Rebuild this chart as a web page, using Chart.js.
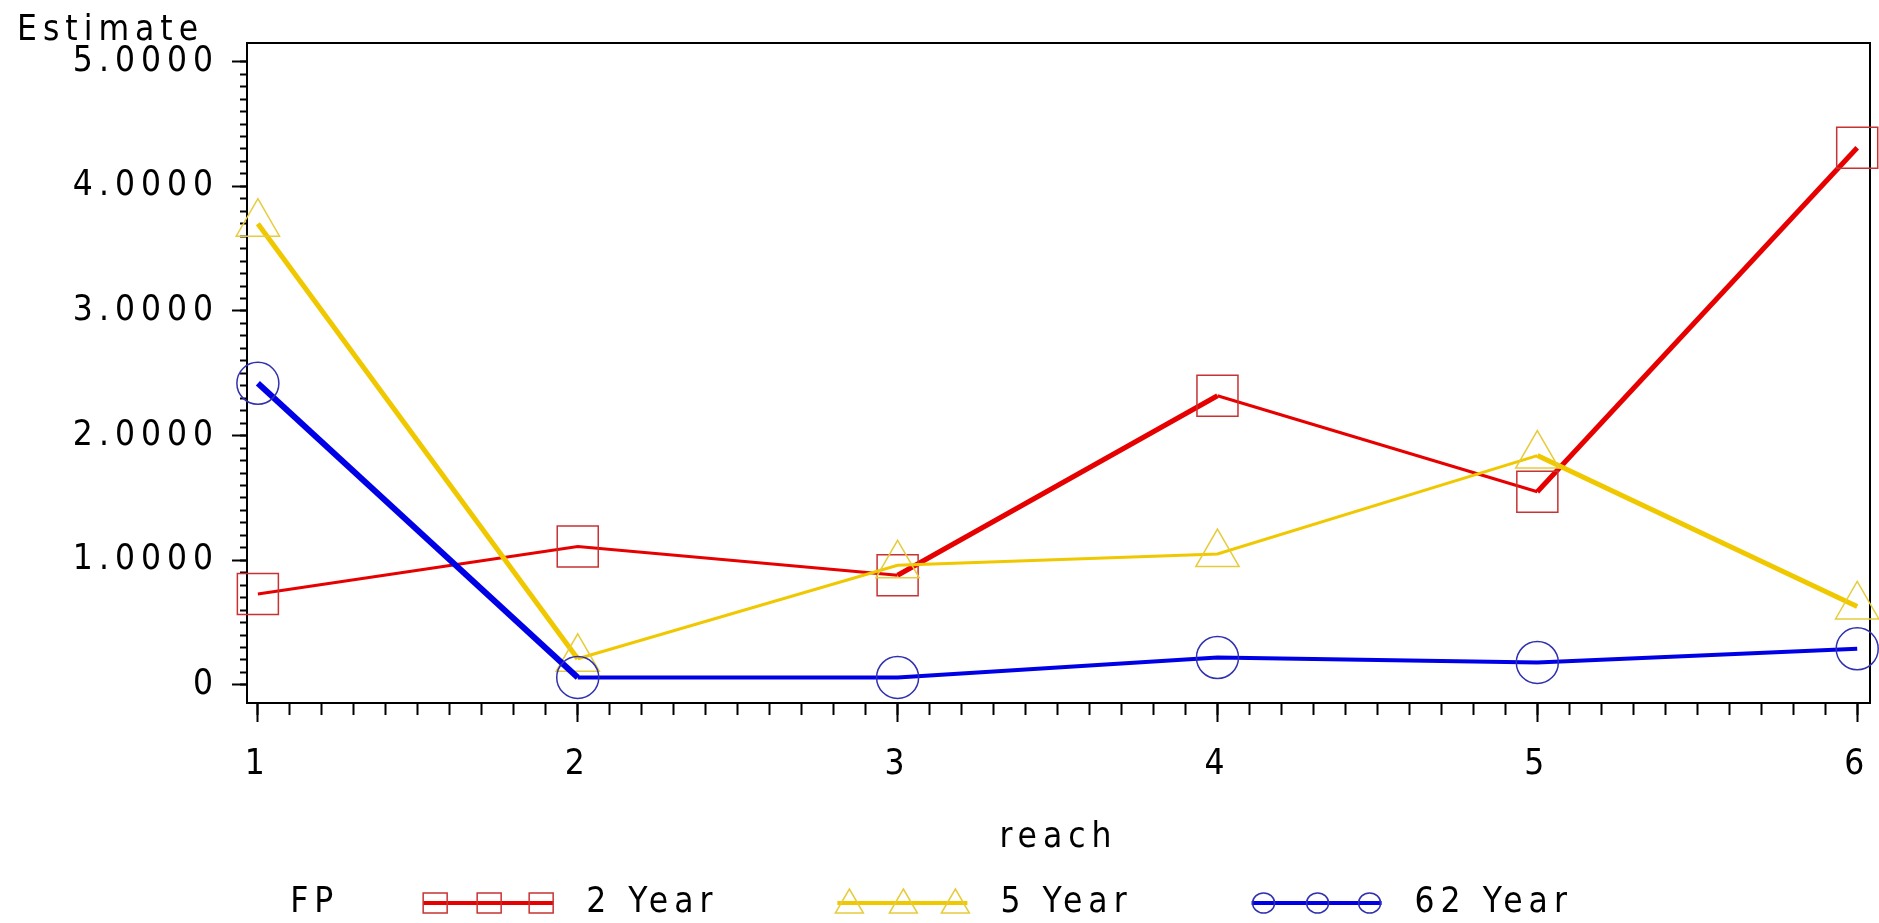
<!DOCTYPE html>
<html>
<head>
<meta charset="utf-8">
<script src="https://cdn.jsdelivr.net/npm/chart.js@4.4.1/dist/chart.umd.min.js"></script>
<style>
  html, body { margin: 0; padding: 0; background: #fff; overflow: hidden; }
  #wrap { width: 1879px; height: 923px; position: relative; }
</style>
</head>
<body>
<div id="wrap"><canvas id="c"></canvas></div>
<script>
// ---- data ----
const categories = [1, 2, 3, 4, 5, 6];
const seriesNames = ['2 Year', '5 Year', '62 Year'];
const fp2Year  = [0.73, 1.11, 0.88, 2.32, 1.55, 4.31];
const fp5Year  = [3.70, 0.21, 0.96, 1.05, 1.84, 0.63];
const fp62Year = [2.42, 0.06, 0.06, 0.22, 0.18, 0.29];
const xTickValues = [1, 2, 3, 4, 5, 6];
const xTickLabels = ['1', '2', '3', '4', '5', '6'];
const yTickValues = [0, 1, 2, 3, 4, 5];
const yTickLabels = ['0', '1.0000', '2.0000', '3.0000', '4.0000', '5.0000'];
const xAxisTitle = 'reach';
const yAxisTitle = 'Estimate';
const legendTitle = 'FP';

// ---- styles ----
const FONT_FAMILY = "'DejaVu Sans Condensed', 'Liberation Sans Narrow', sans-serif";
const SPACING = '6px';
const font = { family: FONT_FAMILY, size: 35, lineHeight: 1.2, weight: 'normal' };
const RED = '#e60000', RED_MK = '#c83232';
const YEL = '#f0c800', YEL_MK = '#e6cc3c';
const BLU = '#0000e6', BLU_MK = '#3030b0';
const redW = [3, 3, 5, 3, 5];
const yelW = [5, 3, 3, 3, 5];
const bluW = [6, 4, 4, 4, 4];
const X_MIN = 0.966, X_MAX = 6.04, Y_MIN = -0.145, Y_MAX = 5.15;
const LEG_BOX = 254.5, SAMPLE_OFF = 109, SAMPLE_LEN = 130;

function toXY(vals) { return categories.map((c, i) => ({ x: c, y: vals[i] })); }
function minorTicks(from, to, step) {
  const out = [];
  const n = Math.round((to - from) / step);
  for (let i = 0; i <= n; i++) out.push({ value: +(from + i * step).toFixed(6) });
  return out;
}
function noPad(s) { s.paddingLeft = 0; s.paddingRight = 0; s.paddingTop = 0; s.paddingBottom = 0; }

const spacingPlugin = {
  id: 'spacing',
  beforeUpdate(c) { c.ctx.letterSpacing = SPACING; },
  beforeLayout(c) { c.ctx.letterSpacing = SPACING; },
  beforeDraw(c) { c.ctx.letterSpacing = SPACING; }
};

function drawMarker(ctx, style, x, y, color) {
  ctx.save();
  ctx.strokeStyle = color;
  ctx.lineWidth = 1.5;
  ctx.beginPath();
  if (style === 'rect') {
    ctx.rect(x - 12, y - 10, 24, 20);
  } else if (style === 'triangle') {
    ctx.moveTo(x, y - 14);
    ctx.lineTo(x + 14, y + 10);
    ctx.lineTo(x - 14, y + 10);
    ctx.closePath();
  } else {
    ctx.ellipse(x, y, 11, 10, 0, 0, Math.PI * 2);
  }
  ctx.stroke();
  ctx.restore();
}

const legendDecor = {
  id: 'legendDecor',
  afterDraw(chart) {
    const lg = chart.legend;
    if (!lg || !lg.legendHitBoxes || !lg.legendHitBoxes.length) return;
    const ctx = chart.ctx;
    const ih = font.size;
    lg.legendHitBoxes.forEach((h, i) => {
      const ds = chart.data.datasets[i];
      const cy = h.top + ih / 2;
      const x0 = h.left + SAMPLE_OFF;
      ctx.save();
      ctx.strokeStyle = ds.borderColor;
      ctx.lineWidth = 4;
      ctx.beginPath();
      ctx.moveTo(x0, cy);
      ctx.lineTo(x0 + SAMPLE_LEN, cy);
      ctx.stroke();
      ctx.restore();
      [12, 66, 118].forEach(d => drawMarker(ctx, ds.pointStyle, x0 + d, cy, ds.pointBorderColor));
    });
    const h0 = lg.legendHitBoxes[0];
    ctx.save();
    ctx.letterSpacing = SPACING;
    ctx.font = `${font.size}px ${FONT_FAMILY}`;
    ctx.fillStyle = '#000';
    ctx.textBaseline = 'middle';
    ctx.textAlign = 'left';
    ctx.fillText(legendTitle, h0.left + SAMPLE_OFF - 133, h0.top + ih / 2);
    ctx.restore();
  }
};

const ctx = document.getElementById('c').getContext('2d');
new Chart(ctx, {
  type: 'line',
  data: {
    datasets: [
      { label: seriesNames[0], data: toXY(fp2Year), borderColor: RED, backgroundColor: RED,
        borderWidth: 3.5, segment: { borderWidth: c => redW[c.p0DataIndex] },
        pointStyle: 'rect', pointRadius: 29, pointBorderColor: RED_MK, pointBackgroundColor: 'rgba(0,0,0,0)',
        pointBorderWidth: 1.5, order: 2 },
      { label: seriesNames[1], data: toXY(fp5Year), borderColor: YEL, backgroundColor: YEL,
        borderWidth: 3.5, segment: { borderWidth: c => yelW[c.p0DataIndex] },
        pointStyle: 'triangle', pointRadius: 25, pointBorderColor: YEL_MK, pointBackgroundColor: 'rgba(0,0,0,0)',
        pointBorderWidth: 1.5, order: 1 },
      { label: seriesNames[2], data: toXY(fp62Year), borderColor: BLU, backgroundColor: BLU,
        borderWidth: 4, segment: { borderWidth: c => bluW[c.p0DataIndex] },
        pointStyle: 'circle', pointRadius: 21, pointBorderColor: BLU_MK, pointBackgroundColor: 'rgba(0,0,0,0)',
        pointBorderWidth: 1.5, order: 0 }
    ]
  },
  options: {
    responsive: true,
    maintainAspectRatio: false,
    animation: false,
    devicePixelRatio: 1,
    events: [],
    datasets: { line: { tension: 0, clip: false, pointHoverRadius: 0 } },
    layout: { autoPadding: false, padding: { left: 17, right: 9, top: 0, bottom: -7.5 } },
    scales: {
      x: {
        type: 'linear', position: 'bottom', weight: 1, min: X_MIN, max: X_MAX,
        afterBuildTicks: s => { s.ticks = xTickValues.map(v => ({ value: v })); },
        afterFit: s => { s.height = 172.5; noPad(s); },
        ticks: { autoSkip: false, maxRotation: 0, color: '#000', font: font, padding: 22,
                 callback: (v, i) => xTickLabels[i] },
        grid: { drawOnChartArea: false, drawTicks: true, tickLength: 19, tickWidth: 2, tickColor: '#000' },
        border: { display: true, color: '#000', width: 2 },
        title: { display: true, text: xAxisTitle, color: '#000', font: font, padding: { top: 0, bottom: 16.5 } }
      },
      xMinor: {
        type: 'linear', position: 'bottom', weight: 0, min: X_MIN, max: X_MAX,
        afterBuildTicks: s => { s.ticks = minorTicks(1, 6, 0.1); },
        afterFit: s => { s.height = 0; noPad(s); },
        ticks: { display: false, autoSkip: false },
        grid: { drawOnChartArea: false, drawTicks: true, tickLength: 12, tickWidth: 2, tickColor: '#000' },
        border: { display: false }
      },
      xTop: {
        type: 'linear', position: 'top', min: X_MIN, max: X_MAX,
        afterFit: s => { s.height = 0; noPad(s); },
        ticks: { display: false },
        grid: { drawOnChartArea: false, drawTicks: false },
        border: { display: true, color: '#000', width: 2 }
      },
      y: {
        type: 'linear', position: 'left', weight: 1, min: Y_MIN, max: Y_MAX,
        afterBuildTicks: s => { s.ticks = yTickValues.map(v => ({ value: v })); },
        afterFit: s => { s.width = 230; noPad(s); },
        ticks: { autoSkip: false, color: '#000', font: font, padding: 13,
                 callback: (v, i) => yTickLabels[i] },
        grid: { drawOnChartArea: false, drawTicks: true, tickLength: 15, tickWidth: 2, tickColor: '#000' },
        border: { display: true, color: '#000', width: 2 }
      },
      yMinor: {
        type: 'linear', position: 'left', weight: 0, min: Y_MIN, max: Y_MAX,
        afterBuildTicks: s => { s.ticks = minorTicks(0, 5, 0.1); },
        afterFit: s => { s.width = 0; noPad(s); },
        ticks: { display: false, autoSkip: false },
        grid: { drawOnChartArea: false, drawTicks: true, tickLength: 7, tickWidth: 2, tickColor: '#000' },
        border: { display: false }
      },
      yRight: {
        type: 'linear', position: 'right', min: Y_MIN, max: Y_MAX,
        afterFit: s => { s.width = 0; noPad(s); },
        ticks: { display: false },
        grid: { drawOnChartArea: false, drawTicks: false },
        border: { display: true, color: '#000', width: 2 }
      }
    },
    plugins: {
      tooltip: { enabled: false },
      title: { display: true, text: yAxisTitle, align: 'start', color: '#000',
               font: { family: FONT_FAMILY, size: 35, lineHeight: 1, weight: 'normal' },
               padding: { top: 13.5, bottom: -5.5 } },
      legend: {
        display: true, position: 'bottom', align: 'center',
        labels: {
          boxWidth: LEG_BOX, boxHeight: 4, padding: 10, color: '#000', font: font,
          generateLabels: chart => chart.data.datasets.map((ds, i) => ({
            text: ds.label, fillStyle: 'rgba(0,0,0,0)', strokeStyle: 'rgba(0,0,0,0)',
            lineWidth: 0, hidden: false, datasetIndex: i, fontColor: '#000'
          }))
        }
      }
    }
  },
  plugins: [spacingPlugin, legendDecor]
});
</script>
</body>
</html>
